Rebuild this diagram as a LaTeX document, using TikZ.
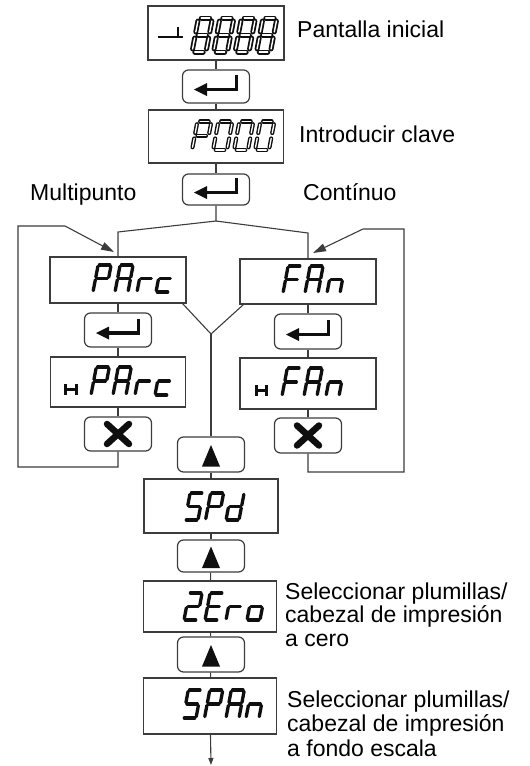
\documentclass[tikz,border=0pt]{standalone}
\usepackage{fontspec}
\setmainfont{Liberation Sans}
\usetikzlibrary{arrows.meta,calc}

\definecolor{linecol}{RGB}{60,60,60}
\definecolor{segcol}{RGB}{15,15,15}

% seven-segment unit glyph: width 1, height 2
\def\sgpa{(0.1,2)--(0.9,2)}
\def\sgpb{(1,1.9)--(1,1.1)}
\def\sgpc{(1,0.9)--(1,0.1)}
\def\sgpd{(0.1,0)--(0.9,0)}
\def\sgpe{(0,0.1)--(0,0.9)}
\def\sgpf{(0,1.1)--(0,1.9)}
\def\sgpg{(0.1,1)--(0.9,1)}
\newcommand{\sdraw}[1]{\edef\tmpseg{\noexpand\draw[digseg] \csname sgp#1\endcsname;}\tmpseg}
\newcommand{\ssd}[5]{\begin{scope}[shift={(#1,#2)},xslant=0.19,xscale=#3,yscale=-#4/2]\foreach \sg in {#5}{\sdraw{\sg}}\end{scope}}

\newcommand{\enterkey}[1]{\begin{scope}[shift={(#1.center)}]
\draw[keysym] (20.5,-11.5) -- (20.5,3) -- (-12,3);
\fill[segcol] (-22,3) -- (-9,-3.5) -- (-9,9.5) -- cycle;
\end{scope}}
\newcommand{\xkey}[1]{\begin{scope}[shift={(#1.center)}]
\draw[segcol, line width=6.5pt, line cap=round] (-11,-10) -- (11,10) (-11,10) -- (11,-10);
\end{scope}}
\newcommand{\upkey}[1]{\begin{scope}[shift={(#1.center)}]
\fill[segcol] (0,-9.5) -- (9,12) -- (-9,12) -- cycle;
\end{scope}}

\begin{document}
\begin{tikzpicture}[x=1pt,y=-1pt,
  disp/.style={draw=linecol, line width=1.3pt, rectangle, inner sep=0pt},
  btn/.style={draw=linecol, line width=1.2pt, rectangle, rounded corners=6pt, inner sep=0pt, minimum width=67pt, minimum height=34pt},
  conn/.style={draw=linecol, line width=1.1pt},
  arr/.style={-{Triangle[length=13pt,width=8pt]}},
  keysym/.style={draw=segcol, line width=3.5pt},
  lbl/.style={font=\fontsize{23}{23.5}\selectfont, inner sep=0pt, anchor=base west, text=black, align=left},
  digseg/.style={draw=segcol, line width=3.3pt, line cap=round},
  hollow/.style={digseg/.style={draw=segcol, line width=1.8pt, double=white, double distance=1.4pt, line cap=round, shorten <=1.4pt, shorten >=1.4pt}},
  hollowthin/.style={digseg/.style={draw=segcol, line width=1.4pt, double=white, double distance=1.3pt, line cap=round, shorten <=1.3pt, shorten >=1.3pt}}
]
\useasboundingbox (0,0) rectangle (530,766);

% ---- boxes and buttons ----
\node[disp, minimum width=136pt, minimum height=54pt] (b1) at (216,33) {};
\node[btn, minimum height=33pt] (k1) at (216,86.5) {};
\node[disp, minimum width=135pt, minimum height=53pt] (b2) at (216,136.5) {};
\node[btn, minimum height=31pt] (k2) at (216,189.5) {};

\node[disp, minimum width=136pt, minimum height=46pt] (parc) at (118,280) {};
\node[btn] (kl) at (118,330) {};
\node[disp, minimum width=135pt, minimum height=50pt] (hparc) at (118,382) {};
\node[btn] (xl) at (118,434) {};

\node[disp, minimum width=136pt, minimum height=45pt] (fan) at (308,281.5) {};
\node[btn, minimum height=35pt] (kr) at (308,331.5) {};
\node[disp, minimum width=136pt, minimum height=51pt] (hfan) at (308,383.5) {};
\node[btn, minimum height=35pt] (xr) at (308,435.5) {};

\node[btn, minimum height=35pt] (u1) at (211,454.5) {};
\node[disp, minimum width=134pt, minimum height=54pt] (spd) at (211,506) {};
\node[btn, minimum height=32pt] (u2) at (211,556) {};
\node[disp, minimum width=133pt, minimum height=51pt] (zero) at (210,606.5) {};
\node[btn, minimum height=35pt] (u3) at (211,654.5) {};
\node[disp, minimum width=133pt, minimum height=56pt] (span) at (210,706) {};

% ---- coordinates ----
\coordinate (s0) at (216,221);
\coordinate (sl) at (118,232);
\coordinate (sr) at (308,233);
\coordinate (apex) at (211,334);
\coordinate (ll1) at (18,467);
\coordinate (ll2) at (18,226);
\coordinate (ll3) at (65,226);
\coordinate (lt) at (114,252);
\coordinate (rl1) at (404,472);
\coordinate (rl2) at (404,229);
\coordinate (rl3) at (363,229);
\coordinate (rt) at (313,253);
\coordinate (endc) at (211,765);

% ---- connectors ----
\draw[conn] (b1) -- (k1);
\draw[conn] (k1) -- (b2);
\draw[conn] (b2) -- (k2);
\draw[conn] (k2) -- (s0) -- (sl) -- (parc);
\draw[conn] (s0) -- (sr) -- (fan);
\draw[conn] (parc) -- (kl);
\draw[conn] (kl) -- (hparc);
\draw[conn] (hparc) -- (xl);
\draw[conn] (fan) -- (kr);
\draw[conn] (kr) -- (hfan);
\draw[conn] (hfan) -- (xr);
\draw[conn] ($(parc.south east)+(-4,0)$) -- (apex) -- ($(fan.south west)+(4,0)$);
\draw[conn] (apex) -- (u1);
\draw[conn] (u1) -- (spd);
\draw[conn] (spd) -- (u2);
\draw[conn] (u2) -- (zero);
\draw[conn] (zero) -- (u3);
\draw[conn] (u3) -- (span);
\draw[conn, -{Triangle[length=7pt,width=5pt]}] (span) -- (endc);
\draw[conn, arr] (xl.south) |- (ll1) -- (ll2) -- (ll3) -- (lt);
\draw[conn, arr] (xr.south) |- (rl1) -- (rl2) -- (rl3) -- (rt);

% ---- key symbols ----
\enterkey{k1}
\enterkey{k2}
\enterkey{kl}
\enterkey{kr}
\xkey{xl}
\xkey{xr}
\upkey{u1}
\upkey{u2}
\upkey{u3}

% ---- display contents ----
\draw[segcol, line width=2.2pt] (158,37) -- (183,37) (178,27) -- (178,37);
\begin{scope}[hollow]
\ssd{192}{52}{14}{34}{a,b,c,d,e,f,g}
\ssd{213.5}{52}{14}{34}{a,b,c,d,e,f,g}
\ssd{235}{52}{14}{34}{a,b,c,d,e,f,g}
\ssd{256.5}{52}{14}{34}{a,b,c,d,e,f,g}
\end{scope}
\begin{scope}[hollowthin]
\ssd{192}{150}{14}{28.5}{a,b,e,f,g}
\ssd{213}{150}{14}{28.5}{a,b,c,d,e,f}
\ssd{234}{150}{14}{28.5}{a,b,c,d,e,f}
\ssd{255}{150}{14}{28.5}{a,b,c,d,e,f}
\end{scope}
% PArc
\ssd{93}{292}{13}{27}{a,b,e,f,g}
\ssd{115}{292}{13}{27}{a,b,c,e,f,g}
\ssd{137}{292}{13}{27}{e,g}
\ssd{156}{292}{13}{27}{d,e,g}
% FAn
\ssd{283}{293}{13}{27}{a,e,f,g}
\ssd{305}{293}{13}{27}{a,b,c,e,f,g}
\ssd{327}{293}{13}{27}{c,e,g}
% H PArc
\draw[segcol, line width=3pt] (65,384) -- (65,395) (76,384) -- (76,395) (65,389.5) -- (76,389.5);
\ssd{91}{395}{13}{28}{a,b,e,f,g}
\ssd{113}{395}{13}{28}{a,b,c,e,f,g}
\ssd{135}{395}{13}{28}{e,g}
\ssd{155}{395}{13}{28}{d,e,g}
% H FAn
\draw[segcol, line width=3pt] (256,385) -- (256,396) (266,385) -- (266,396) (256,390.5) -- (266,390.5);
\ssd{282}{396}{13}{28}{a,e,f,g}
\ssd{304}{396}{13}{28}{a,b,c,e,f,g}
\ssd{326}{396}{13}{28}{c,e,g}
% SPd
\ssd{185}{520}{13}{27}{a,c,d,f,g}
\ssd{205.5}{520}{13}{27}{a,b,e,f,g}
\ssd{226}{520}{13}{27}{b,c,d,e,g}
% 2Ero
\ssd{184}{620}{13}{27}{a,b,d,e,g}
\ssd{205}{620}{13}{27}{a,d,e,f,g}
\ssd{226}{620}{13}{27}{e,g}
\ssd{247}{620}{13}{27}{c,d,e,g}
% SPAn
\ssd{183}{718}{13}{28}{a,c,d,f,g}
\ssd{204.5}{718}{13}{28}{a,b,e,f,g}
\ssd{226}{718}{13}{28}{a,b,c,e,f,g}
\ssd{246}{718}{13}{28}{c,e,g}

% ---- labels ----
\node[lbl] (t1) at (297,37) {Pantalla inicial};
\node[lbl] (t2) at (299,142) {Introducir clave};
\node[lbl] (t3) at (30,200) {Multipunto};
\node[lbl] (t4) at (303,200) {Contínuo};
\node[lbl] (t5) at (285,646) {Seleccionar plumillas/\\cabezal de impresión\\a cero};
\node[lbl, font=\fontsize{23}{24.5}\selectfont] (t6) at (287,756) {Seleccionar plumillas/\\cabezal de impresión\\a fondo escala};
\end{tikzpicture}
\end{document}
